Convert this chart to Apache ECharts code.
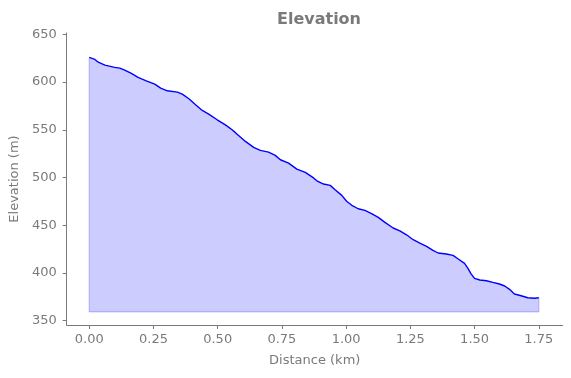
<!DOCTYPE html>
<html>
<head>
<meta charset="utf-8">
<script src="https://cdn.jsdelivr.net/npm/echarts@6/dist/echarts.min.js"></script>
<style>html,body{margin:0;padding:0;background:#fff}#c{width:571px;height:378px}</style>
</head>
<body>
<div id="c"></div>
<script>
const distanceKm = [0.000,0.022,0.035,0.061,0.099,0.119,0.138,0.164,0.190,0.222,0.255,0.278,0.304,0.343,0.362,0.388,0.414,0.440,0.465,0.498,0.530,0.556,0.569,0.608,0.640,0.666,0.698,0.724,0.744,0.776,0.808,0.841,0.873,0.886,0.912,0.938,0.957,0.983,1.002,1.022,1.047,1.073,1.099,1.125,1.151,1.183,1.209,1.235,1.261,1.287,1.313,1.338,1.358,1.390,1.416,1.435,1.461,1.474,1.487,1.500,1.520,1.546,1.571,1.597,1.617,1.636,1.655,1.681,1.707,1.733,1.750];
const elevationM = [625.9,623.8,620.9,617.8,615.4,614.7,612.6,609.1,605.0,601.4,597.9,593.7,590.9,589.5,587.4,582.5,576.2,570.3,566.5,560.5,555.2,550.0,547.0,537.8,531.6,528.4,526.6,523.2,518.6,515.1,508.8,505.3,499.5,496.5,493.1,491.7,487.1,481.2,475.0,470.8,467.2,465.5,462.0,458.2,452.9,447.0,444.1,439.9,434.7,431.2,427.8,423.6,420.8,419.7,418.3,414.8,410.0,404.7,398.7,394.2,392.5,391.7,390.0,388.3,386.2,382.7,377.8,376.0,373.9,373.3,373.9];
const fillBase = 359;
const xTicks = [0, 0.25, 0.5, 0.75, 1.0, 1.25, 1.5, 1.75];
const yTicks = [350, 400, 450, 500, 550, 600, 650];

const profile = distanceKm.map((d, i) => [d, elevationM[i]]);
const last = distanceKm.length - 1;
const outline = [[distanceKm[0], elevationM[0]], [distanceKm[0], fillBase], [distanceKm[last], fillBase], [distanceKm[last], elevationM[last]]];

const gray = '#7a7a7a';
const font = 'DejaVu Sans';
const chart = echarts.init(document.getElementById('c'), null, {renderer: 'canvas'});
chart.setOption({
  animation: false,
  title: {
    text: 'Elevation', left: 314, top: 7, textAlign: 'center',
    textStyle: {fontFamily: font, fontSize: 16, fontWeight: 'bold', color: gray}
  },
  grid: {left: 66.5, right: 8.3, top: 33, bottom: 53, containLabel: false},
  xAxis: {
    type: 'value', min: -0.0877, max: 1.843,
    name: 'Distance (km)', nameLocation: 'middle', nameGap: 29,
    nameTextStyle: {fontFamily: font, fontSize: 13, color: gray},
    axisLine: {show: true, onZero: false, lineStyle: {color: gray, width: 1}},
    axisTick: {show: true, length: 4, inside: false, lineStyle: {color: gray}, customValues: xTicks},
    axisLabel: {fontFamily: font, fontSize: 13, color: gray, margin: 8, customValues: xTicks,
      formatter: v => v.toFixed(2)},
    splitLine: {show: false}
  },
  yAxis: {
    type: 'value', min: 345.3, max: 651.5,
    name: 'Elevation (m)', nameLocation: 'middle', nameGap: 41,
    nameTextStyle: {fontFamily: font, fontSize: 13, color: gray},
    axisLine: {show: true, onZero: false, lineStyle: {color: gray, width: 1}},
    axisTick: {show: true, length: 4, inside: false, lineStyle: {color: gray}, customValues: yTicks},
    axisLabel: {fontFamily: font, fontSize: 13, color: gray, margin: 10, customValues: yTicks},
    splitLine: {show: false}
  },
  series: [
    {
      type: 'line', data: profile, symbol: 'none', smooth: false,
      lineStyle: {color: '#0000ff', width: 1.4},
      areaStyle: {color: 'rgba(0,0,255,0.2)', opacity: 1, origin: fillBase},
      z: 3
    },
    {
      type: 'line', data: outline, symbol: 'none',
      lineStyle: {color: 'rgba(0,0,255,0.2)', width: 1.3},
      z: 2
    }
  ]
});
</script>
</body>
</html>
